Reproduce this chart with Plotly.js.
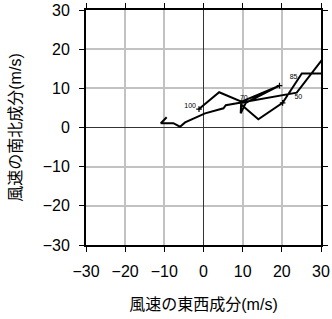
<!DOCTYPE html>
<html>
<head>
<meta charset="utf-8">
<script src="https://cdn.plot.ly/plotly-3.0.1.min.js"></script>
<style>html,body{margin:0;padding:0;background:#fff;}#chart{width:332px;height:319px;}</style>
</head>
<body>
<div id="chart"></div>
<script>
// Hodograph path (u = east-west, v = north-south) in m/s
const uWind = [-9.4, -10.9, -7.7, -6.0, -4.7, 0.4, 5.1, 5.7, 9.3, 23.8, 30.2, 34, 34, 25.1, 20.2, 14.0, 9.6, 9.5, 10.8, 19.4, 9.7, 4.0, -1.15];
const vWind = [2.6, 1.1, 1.1, 0.2, 1.3, 3.6, 4.9, 5.7, 6.3, 8.9, 17.2, 22, 13.8, 13.8, 6.3, 2.1, 5.9, 3.6, 6.3, 10.7, 6.6, 9.0, 4.7];
// Level markers and labels
const levelU = [-1.15, 9.6, 20.2, 19.4];
const levelV = [4.7, 6.3, 6.3, 10.7];
const levelLabels = ['100', '70', '50', '85'];
const labelU = [-3.4, 10.3, 24.2, 23.0];
const labelV = [5.5, 7.4, 7.6, 12.9];
const tickVals = [-30, -20, -10, 0, 10, 20, 30];
const tickText = ['\u221230', '\u221220', '\u221210', '0', '10', '20', '30'];

const font = 'Liberation Sans, Arial, Noto Sans CJK JP, sans-serif';

const traces = [
  {x: uWind, y: vWind, mode: 'lines', type: 'scatter',
   line: {color: '#000', width: 2}, hoverinfo: 'none'},
  {x: levelU, y: levelV, mode: 'markers', type: 'scatter',
   marker: {symbol: 'cross-thin', size: 4, line: {color: '#000', width: 1.2}}, hoverinfo: 'none'},
  {x: labelU, y: labelV, mode: 'text', type: 'scatter', text: levelLabels,
   textfont: {family: font, size: 7, color: '#000'}, hoverinfo: 'none'}
];

const axisCommon = {
  range: [-30, 30], tickvals: tickVals, ticktext: tickText,
  showgrid: true, gridcolor: '#c2c2c2', gridwidth: 2,
  zeroline: true, zerolinecolor: '#333', zerolinewidth: 1,
  showline: true, linecolor: '#000', linewidth: 2, mirror: 'allticks',
  ticks: 'outside', ticklen: 5, tickcolor: '#000', tickwidth: 1,
  ticklabelstandoff: 6,
  tickfont: {family: font, size: 16, color: '#000'}, fixedrange: true
};

const layout = {
  width: 332, height: 319,
  margin: {l: 86, r: 11, t: 10, b: 74},
  paper_bgcolor: '#fff', plot_bgcolor: '#fff',
  showlegend: false,
  xaxis: Object.assign({}, axisCommon, {
    title: {text: '風速の東西成分(m/s)', font: {family: font, size: 16, color: '#000'}, standoff: 20}
  }),
  yaxis: Object.assign({}, axisCommon, {
    title: {text: '風速の南北成分(m/s)', font: {family: font, size: 16, color: '#000'}, standoff: 17}
  })
};

Plotly.newPlot('chart', traces, layout, {staticPlot: true, displayModeBar: false});
</script>
</body>
</html>
